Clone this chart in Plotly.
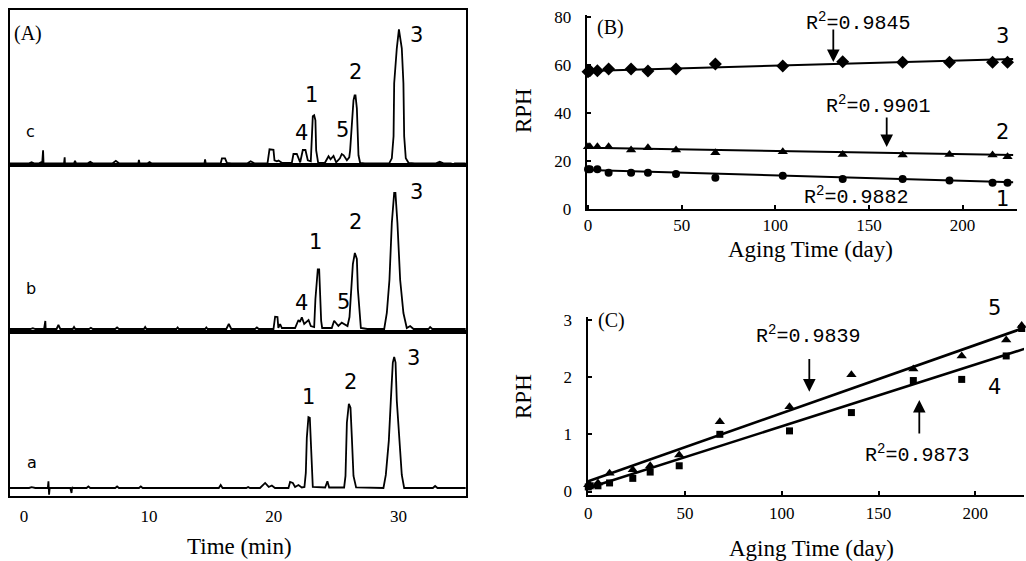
import plotly.graph_objects as go

W, H = 1026, 561

# ---------------- Panel A: chromatograms (time [min], signal) ----------------
trace_c = [
    (-1.2, 0), (0.4, 0), (0.6, 1), (0.8, 0), (1.2, 0), (1.35, 1), (1.45, 0), (1.52, 13), (1.58, -8), (1.64, 0),
    (3.2, 0), (3.25, 6), (3.3, -8), (3.36, 0),
    (4.0, 0), (4.08, 2.5), (4.16, 0),
    (5.1, 0), (5.3, 1.5), (5.5, 0),
    (7.1, 0), (7.35, 2.5), (7.6, 0),
    (9.15, 0), (9.2, 3.5), (9.25, 0),
    (9.9, 0), (10.05, 1.2), (10.2, 0),
    (14.45, 0), (14.5, 4), (14.55, 0),
    (15.75, 0), (15.85, 5), (16.1, 5), (16.25, 0.5), (16.6, 0),
    (17.9, 0), (18.15, 2), (18.45, 0),
    (19.5, 0), (19.66, 14), (19.98, 13.5), (20.06, 3), (20.25, 2), (20.38, 2.7), (20.65, 0.5),
    (21.45, 0.5), (21.58, 9.3), (21.85, 9.3), (22.12, 1), (22.33, 13.3), (22.54, 13.3), (22.73, 3),
    (22.97, 2), (23.05, 37), (23.13, 47), (23.24, 48), (23.34, 43), (23.4, 13), (23.56, 0.5),
    (24.1, 0.5), (24.39, 7), (24.55, 4), (24.79, 7.3), (25.0, 1), (25.3, 5), (25.45, 9.3), (25.6, 8), (25.86, 3),
    (26.05, 6), (26.12, 13), (26.26, 43), (26.39, 63), (26.48, 68), (26.55, 68), (26.66, 55), (26.71, 37),
    (26.79, 8), (26.92, 0.5),
    (27.3, 0), (29.25, 0), (29.46, 5), (29.6, 27), (29.65, 80), (29.86, 115), (29.97, 134), (30.03, 134),
    (30.26, 115), (30.39, 80), (30.45, 27), (30.58, 5), (30.8, 0.5),
    (31.3, 0), (33.0, 0), (33.3, 1.5), (33.6, 0), (34.2, 0), (34.35, -1.5), (34.5, 0), (35.4, 0),
]

trace_b = [
    (-1.2, 0), (0.5, 0), (0.7, 0.8), (0.9, 0), (1.6, 0), (1.7, 8), (1.76, -8), (1.82, 0),
    (2.6, 0), (2.75, 4), (2.9, 0), (3.35, 0), (3.4, -3), (3.45, 0), (3.9, 0), (4.0, 2), (4.1, 0),
    (5.2, 0), (5.35, 1.2), (5.5, 0), (7.3, 0), (7.45, 1.5), (7.6, 0), (9.6, 0), (9.7, 2), (9.8, 0),
    (12.2, 0), (12.3, 1.5), (12.4, 0), (14.5, 0), (14.6, 1.5), (14.7, 0), (16.2, 0), (16.4, 5), (16.6, 0),
    (18.5, 0), (18.65, 1.5), (18.8, 0),
    (19.98, 0), (20.11, 12.3), (20.3, 12), (20.37, 1), (20.51, 5), (20.65, 1),
    (21.71, 1), (21.98, 9), (22.1, 7), (22.25, 11.7), (22.44, 5), (22.65, 8), (22.79, 9), (22.97, 3),
    (23.24, 2), (23.34, 30), (23.42, 45), (23.53, 59.7), (23.64, 59.7), (23.72, 30), (23.8, 8), (23.88, 1),
    (24.65, 1), (24.84, 8.3), (25.05, 5), (25.18, 3), (25.45, 6.3), (25.72, 4), (25.91, 3),
    (26.07, 12), (26.2, 40), (26.34, 65), (26.5, 76), (26.66, 70), (26.74, 40), (26.87, 12), (26.98, 1),
    (27.5, 0), (28.85, 0), (29.06, 16), (29.27, 49), (29.46, 106), (29.65, 136), (29.75, 136), (29.91, 106),
    (30.13, 49), (30.39, 16), (30.66, 1),
    (30.93, 3), (31.2, 0), (32.4, 0), (32.53, 2), (32.7, 0), (35.4, 0),
]

trace_a = [
    (-1.2, 0), (0.4, 0), (0.6, 0.8), (0.9, 0), (1.9, 0), (1.95, 6.7), (2.0, -6.7), (2.05, 0),
    (3.7, 0), (3.8, -5), (3.85, 1), (3.9, 0), (5.0, 0), (5.15, 1.5), (5.3, 0), (7.3, 0), (7.45, 1.5), (7.6, 0),
    (9.2, 0), (9.35, 1.5), (9.5, 0), (15.6, 0), (15.75, 3), (15.9, 0), (17.8, 0), (17.95, 1), (18.1, 0),
    (18.9, 0), (19.31, 5), (19.6, 1), (19.85, 2.5), (20.1, 0),
    (21.18, 0), (21.31, 6), (21.53, 5), (21.71, 1), (21.98, 3), (22.25, 0.5),
    (22.46, 1), (22.57, 15), (22.65, 50), (22.78, 70.7), (22.89, 70), (22.97, 45), (23.05, 10), (23.13, 1),
    (24.12, 0.5), (24.3, 6.7), (24.44, 0.5),
    (25.64, 0.5), (25.75, 12), (25.86, 65), (26.02, 84), (26.15, 80), (26.26, 50), (26.39, 12), (26.6, 0.5),
    (28.79, 0), (28.98, 13), (29.22, 47), (29.38, 87), (29.54, 125), (29.65, 130.7), (29.76, 125), (29.86, 87),
    (30.07, 47), (30.26, 13), (30.45, 0),
    (32.75, 0), (32.93, 2), (33.12, 0), (35.4, 0),
]
time_ticks = [0, 10, 20, 30]

# ---------------- Panel B: RPH of peaks 1-3 vs aging time ----------------
days = [0, 1, 5, 11, 23, 32, 47, 68, 104, 136, 168, 193, 216, 224]
rph3 = [57.1, 57.5, 57.5, 58.2, 58.2, 57.4, 58.2, 60.3, 59.5, 61.2, 61.0, 61.0, 61.0, 61.0]
rph2 = [25.9, 25.9, 25.9, 25.9, 24.5, 25.5, 24.5, 23.4, 23.8, 22.7, 22.5, 22.7, 22.5, 21.7]
rph1 = [16.5, 16.5, 16.5, 15.1, 15.1, 15.1, 14.6, 13.0, 13.8, 12.5, 12.5, 11.8, 10.9, 10.9]
fit_days_B = [0, 227]
fit3 = [57.4, 62.4]
fit2 = [25.5, 22.5]
fit1 = [16.2, 11.1]

# ---------------- Panel C: RPH of peaks 4-5 vs aging time ----------------
rph5 = [0.12, 0.1, 0.15, 0.32, 0.38, 0.45, 0.64, 1.22, 1.48, 2.04, 2.14, 2.37, 2.65, 2.9]
rph4 = [0.08, 0.1, 0.1, 0.15, 0.23, 0.34, 0.45, 1.0, 1.06, 1.38, 1.94, 1.96, 2.37, 2.85]
fit_days_C = [0, 226]
fit5 = [0.18, 2.87]
fit4 = [0.06, 2.50]


def fx(p):
    return p / W


def fy(p):
    return 1 - p / H


fig = go.Figure()
BLK = "black"
SERIF = "Liberation Serif"
SANS = "DejaVu Sans"
MONO = "Liberation Mono"

for pts, xa, ya in [(trace_c, "x", "y"), (trace_b, "x2", "y2"), (trace_a, "x3", "y3")]:
    fig.add_trace(go.Scatter(x=[p[0] for p in pts], y=[p[1] for p in pts], mode="lines",
                             line=dict(color=BLK, width=1.8), xaxis=xa, yaxis=ya, showlegend=False,
                             hoverinfo="skip"))

# Panel B
for yv, fit, sym, sz in [(rph3, fit3, "diamond", 10), (rph2, fit2, "triangle-up", 9), (rph1, fit1, "circle", 8)]:
    fig.add_trace(go.Scatter(x=fit_days_B, y=fit, mode="lines", line=dict(color=BLK, width=2),
                             xaxis="x4", yaxis="y4", showlegend=False))
    fig.add_trace(go.Scatter(x=days, y=yv, mode="markers", marker=dict(symbol=sym, size=sz, color=BLK),
                             xaxis="x4", yaxis="y4", showlegend=False, cliponaxis=False))

# Panel C
for yv, fit, sym, sz in [(rph5, fit5, "triangle-up", 9), (rph4, fit4, "square", 7)]:
    fig.add_trace(go.Scatter(x=fit_days_C, y=fit, mode="lines", line=dict(color=BLK, width=2.6),
                             xaxis="x5", yaxis="y5", showlegend=False))
    fig.add_trace(go.Scatter(x=days, y=yv, mode="markers", marker=dict(symbol=sym, size=sz, color=BLK),
                             xaxis="x5", yaxis="y5", showlegend=False, cliponaxis=False))

Ax = [fx(9.5), fx(465.7)]
box = dict(showline=True, mirror=True, linewidth=2, linecolor=BLK, showgrid=False, zeroline=False,
           automargin=False)
xA = dict(domain=Ax, range=[-1.17, 35.38], ticks="", **box)

layout = dict(
    width=W, height=H, margin=dict(l=0, r=0, t=0, b=0, pad=0, autoexpand=False), autosize=False,
    paper_bgcolor="white", plot_bgcolor="white", showlegend=False,
    xaxis=dict(anchor="y", showticklabels=False, **xA),
    yaxis=dict(anchor="x", domain=[fy(165), fy(10)], range=[-1.7, 153.3], showticklabels=False, ticks="", **box),
    xaxis2=dict(anchor="y2", showticklabels=False, **xA),
    yaxis2=dict(anchor="x2", domain=[fy(331.5), fy(165)], range=[-2.5, 164], showticklabels=False, ticks="", **box),
    xaxis3=dict(anchor="y3", showticklabels=True, tickvals=time_ticks, ticklabelstandoff=4,
                tickfont=dict(family=SERIF, size=17, color=BLK), **xA),
    yaxis3=dict(anchor="x3", domain=[fy(495.5), fy(331.5)], range=[-7.5, 156], showticklabels=False, ticks="", **box),
)

axline = dict(showline=True, linewidth=2, linecolor=BLK, showgrid=False, zeroline=False, automargin=False,
              ticks="inside", ticklen=4, tickwidth=1.5, tickcolor=BLK,
              tickfont=dict(family=SERIF, size=17, color=BLK))
layout["xaxis4"] = dict(anchor="y4", domain=[fx(586.7), fx(1016.7)], range=[-0.7, 228.9],
                        tickvals=[0, 50, 100, 150, 200], ticklabelstandoff=0, **axline)
layout["yaxis4"] = dict(anchor="x4", domain=[fy(209), fy(15)], range=[0, 80.67],
                        tickvals=[0, 20, 40, 60, 80], ticklabelstandoff=10, **axline)
layout["xaxis5"] = dict(anchor="y5", domain=[fx(587.5), fx(1024)], range=[-0.4, 225.2],
                        tickvals=[0, 50, 100, 150, 200], ticklabelstandoff=2, **axline)
layout["yaxis5"] = dict(anchor="x5", domain=[fy(494.5), fy(316.7)], range=[-0.052, 3.056],
                        tickvals=[0, 1, 2, 3], ticklabelstandoff=10, **axline)

fig.update_layout(**layout)

ann = []


def txt(s, x, y, family, size, angle=0):
    ann.append(dict(text=s, x=fx(x), y=fy(y), xref="paper", yref="paper", showarrow=False,
                    xanchor="center", yanchor="middle", textangle=angle,
                    font=dict(family=family, size=size, color=BLK)))


def arrow(x, ytip, ytail):
    ann.append(dict(text="", x=fx(x), y=fy(ytip), xref="paper", yref="paper", showarrow=True,
                    ax=0, ay=ytail - ytip, arrowhead=2, arrowsize=1.4, arrowwidth=1.8, arrowcolor=BLK,
                    standoff=0))


# Panel A labels
txt("(A)", 28.3, 33.3, SERIF, 20)
txt("c", 30, 131.7, SANS, 16)
txt("b", 30.7, 288.3, SANS, 16)
txt("a", 32.3, 462.7, SANS, 16)
for s, x, y in [("1", 311.7, 95), ("2", 355, 71.7), ("3", 416.7, 35.3), ("4", 301.7, 133.3), ("5", 342.7, 130),
                ("1", 315, 241.7), ("2", 355, 221.7), ("3", 416.7, 191.7), ("4", 301.7, 303.3), ("5", 343.3, 301.7),
                ("1", 308.3, 397.3), ("2", 350, 381.7), ("3", 413.3, 358.3)]:
    txt(s, x, y, SANS, 21)
txt("Time (min)", 239, 546.7, SERIF, 23)

# Panel B labels
txt("(B)", 610, 27.5, SERIF, 20)
txt("R<sup>2</sup>=0.9845", 858.3, 21.7, MONO, 20)
txt("R<sup>2</sup>=0.9901", 877.5, 104.7, MONO, 20)
txt("R<sup>2</sup>=0.9882", 855.5, 196, MONO, 20)
arrow(833.3, 62, 28)
arrow(886.7, 147, 116)
txt("3", 1002.5, 35.7, SANS, 21)
txt("2", 1002.5, 131.7, SANS, 21)
txt("1", 1002.5, 199, SANS, 21)
txt("RPH", 523.3, 110.8, SERIF, 23, -90)
txt("Aging Time (day)", 810.8, 250, SERIF, 23)

# Panel C labels
txt("(C)", 611, 320, SERIF, 20)
txt("R<sup>2</sup>=0.9839", 808.3, 335.3, MONO, 20)
txt("R<sup>2</sup>=0.9873", 916.7, 453.7, MONO, 20)
arrow(809.3, 391.7, 357.5)
arrow(919.3, 400, 435)
txt("5", 994, 307.5, SANS, 21)
txt("4", 994.3, 386.7, SANS, 21)
txt("RPH", 523.3, 396.7, SERIF, 23, -90)
txt("Aging Time (day)", 811.7, 548, SERIF, 23)

fig.update_layout(annotations=ann)
fig.write_html("out.html", config={"displayModeBar": False},
               post_script="document.body.style.margin='0';document.body.style.overflow='hidden';")
